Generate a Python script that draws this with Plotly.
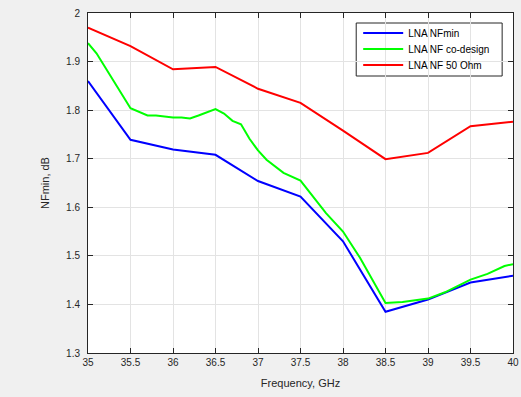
import plotly.graph_objects as go

x_main = [35, 35.5, 36, 36.5, 37, 37.5, 38, 38.5, 39, 39.5, 40]
nfmin = [1.860, 1.739, 1.719, 1.708, 1.654, 1.622, 1.530, 1.385, 1.410, 1.445, 1.459]
nf50 = [1.970, 1.932, 1.884, 1.889, 1.844, 1.815, 1.758, 1.699, 1.712, 1.767, 1.776]

x_co = [35, 35.1, 35.5, 35.7, 35.8, 36, 36.1, 36.2, 36.3, 36.5, 36.6, 36.7, 36.8,
        36.9, 37.0, 37.1, 37.3, 37.5, 37.8, 38, 38.2, 38.5, 38.7, 39, 39.2, 39.5,
        39.7, 39.9, 40]
nfco = [1.938, 1.917, 1.804, 1.789, 1.789, 1.785, 1.785, 1.783, 1.789, 1.802, 1.793,
        1.778, 1.771, 1.741, 1.717, 1.698, 1.671, 1.655, 1.588, 1.550, 1.496, 1.403,
        1.405, 1.412, 1.425, 1.451, 1.463, 1.479, 1.483]

x_ticks = [35, 35.5, 36, 36.5, 37, 37.5, 38, 38.5, 39, 39.5, 40]
y_ticks = [1.3, 1.4, 1.5, 1.6, 1.7, 1.8, 1.9, 2.0]

FONT = "Liberation Sans, Arial"
fig = go.Figure()
fig.add_trace(go.Scatter(x=x_main, y=nfmin, mode="lines", name="LNA NFmin",
                         line=dict(color="#0000ff", width=2), legend="legend",
                         showlegend=True))
fig.add_trace(go.Scatter(x=x_co, y=nfco, mode="lines", name="LNA NF co-design",
                         line=dict(color="#00ff00", width=2), legend="legend2",
                         showlegend=True))
fig.add_trace(go.Scatter(x=x_main, y=nf50, mode="lines", name="LNA NF 50 Ohm",
                         line=dict(color="#ff0000", width=2), legend="legend3",
                         showlegend=True))

axis_common = dict(
    showline=True, linecolor="#262626", linewidth=1, mirror="allticks",
    ticks="inside", ticklen=5, tickcolor="#262626",
    showgrid=True, gridcolor="#e3e3e3", gridwidth=1, zeroline=False,
    tickfont=dict(family=FONT, size=10, color="#262626"),
)
fig.update_xaxes(range=[35, 40], tickvals=x_ticks,
                 ticktext=[("%g" % v) for v in x_ticks],
                 ticklabeloverflow="allow",
                 title=dict(text="Frequency, GHz", standoff=12,
                            font=dict(family=FONT, size=11, color="#262626")),
                 **axis_common)
fig.update_yaxes(range=[1.3, 2.0], tickvals=y_ticks,
                 ticktext=[("%g" % v) for v in y_ticks],
                 ticklabelstandoff=5,
                 title=dict(text="NFmin, dB", standoff=14,
                            font=dict(family=FONT, size=11, color="#262626")),
                 **axis_common)

leg_x = (362 - 88) / 431
def leg(ypix):
    return dict(x=leg_x, y=(353 - ypix) / 340, xanchor="left", yanchor="middle",
                bgcolor="rgba(0,0,0,0)", borderwidth=0, itemwidth=40,
                font=dict(family=FONT, size=10, color="#000000"))

fig.update_layout(
    width=521, height=397,
    showlegend=True,
    margin=dict(l=88, r=2, t=13, b=44),
    paper_bgcolor="#f0f0f0", plot_bgcolor="#ffffff",
    font=dict(family=FONT, size=10, color="#262626"),
    legend=leg(33), legend2=leg(49), legend3=leg(65),
    shapes=[dict(type="rect", xref="paper", yref="paper",
                 x0=(360 - 88) / 431, x1=(508 - 88) / 431,
                 y0=(353 - 76) / 340, y1=(353 - 23) / 340,
                 fillcolor="#ffffff", line=dict(color="#262626", width=1),
                 layer="between")],
)
fig.write_html("out.html")
